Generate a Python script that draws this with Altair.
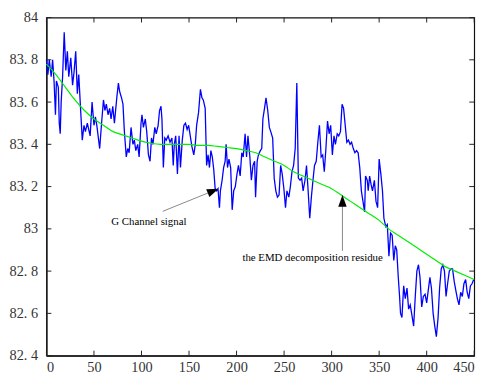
import altair as alt
import pandas as pd

# ---- blue signal (G channel) ----
sig_x = [0, 1.5, 3, 5, 6.5, 8, 9.5, 10.5, 12.5, 13.5, 14.5, 15.5, 17, 18.7, 20.4, 22, 23.5, 25.6, 27.5, 29,
         30.8, 32.5, 34, 36, 37.7, 39.5, 41, 43, 44.5, 46, 48, 50, 51.5, 53, 56, 58, 60, 61.5, 63, 64.8,
         66.5, 68, 69.8, 71.5, 74, 75.7, 77, 79, 80.5, 82, 84, 85.5, 87, 89, 91, 92.5, 94, 96, 97.5, 99.5,
         100.5, 102, 104, 105.5, 107.3, 109, 110.5, 112, 114, 115.5, 117.5, 119, 120.5, 121.5, 123, 124.5, 126, 128, 130, 132,
         133.4, 134.5, 136, 137.8, 139.5, 141, 142.9, 144.6, 146.3, 148, 149.6, 151.3, 153, 155, 156.6, 158, 160, 162, 163.6, 165,
         167, 168.5, 170, 171.5, 173, 174.5, 176, 177.5, 179, 180.5, 182, 183, 184.8, 186.4, 188, 189, 190.5, 192, 193.8, 195.4,
         197, 198.7, 200.5, 202, 203.8, 205.5, 207, 209, 210.5, 212, 214, 215.6, 217.3, 219, 220, 221.7, 223, 225, 226.5, 227.7,
         229.4, 231, 232.8, 234.5, 236, 238, 239.6, 241.3, 243, 244.7, 246.4, 248, 249.8, 251.5, 253, 255, 256.6, 258.3, 260, 261.7,
         263.4, 265, 266.8, 268.5, 270, 272, 273.6, 275.3, 277, 278.7, 280.4, 282, 283.8, 285.5, 287.2, 289, 290.6, 292.3, 294, 295.7,
         297.4, 299, 300.8, 302.5, 304, 305.9, 307.5, 309.3, 311, 312.6, 314.3, 316, 317.7, 319.4, 321, 322.8, 324.5, 326.2, 327.9, 329.6,
         331.3, 333, 334.7, 335.7, 337.5, 338.5, 340, 341.5, 343, 345, 346.7, 348.4, 350, 351.8, 353.5, 355, 357, 358.6, 360.3, 362,
         363.7, 365.4, 367, 368.5, 370, 371.5, 372.5, 374, 375.8, 377.5, 379.3, 381, 382.7, 384.5, 386.3, 388, 389.7, 391.4, 393, 394.8,
         396.5, 398.3, 400, 401.7, 403.4, 405, 406.8, 408.5, 410.2, 412, 413.6, 415.3, 417, 418.7, 420.4, 422, 423.8, 425.5, 427.2, 429,
         430.6, 432.3, 434, 435.8, 437.5, 439.2, 441, 442.6, 444.3, 446, 447.7, 449.5]
sig_y = [83.80, 83.73, 83.80, 83.72, 83.80, 83.70, 83.54, 83.70, 83.67, 83.50, 83.45, 83.60, 83.72, 83.93, 83.75, 83.84, 83.72, 83.81, 83.68, 83.74,
         83.84, 83.64, 83.73, 83.56, 83.42, 83.49, 83.46, 83.50, 83.47, 83.44, 83.60, 83.49, 83.53, 83.49, 83.38, 83.50, 83.61, 83.56, 83.59, 83.54,
         83.57, 83.52, 83.58, 83.50, 83.62, 83.69, 83.65, 83.62, 83.59, 83.46, 83.34, 83.38, 83.36, 83.48, 83.40, 83.42, 83.37, 83.40, 83.34, 83.50,
         83.54, 83.48, 83.52, 83.46, 83.35, 83.32, 83.43, 83.40, 83.48, 83.45, 83.49, 83.56, 83.58, 83.52, 83.29, 83.43, 83.42, 83.44, 83.41, 83.43,
         83.30, 83.40, 83.44, 83.26, 83.44, 83.29, 83.42, 83.49, 83.50, 83.47, 83.49, 83.44, 83.39, 83.35, 83.40, 83.49, 83.55, 83.66, 83.62, 83.61,
         83.57, 83.30, 83.35, 83.29, 83.37, 83.34, 83.28, 83.19, 83.18, 83.19, 83.10, 83.18, 83.23, 83.29, 83.32, 83.40, 83.29, 83.33, 83.29, 83.09,
         83.18, 83.20, 83.26, 83.30, 83.25, 83.36, 83.34, 83.45, 83.34, 83.44, 83.34, 83.23, 83.30, 83.32, 83.15, 83.32, 83.35, 83.37, 83.38, 83.52,
         83.57, 83.62, 83.56, 83.48, 83.46, 83.43, 83.24, 83.18, 83.15, 83.16, 83.30, 83.26, 83.19, 83.10, 83.18, 83.15, 83.20, 83.27, 83.30, 83.38,
         83.69, 83.24, 83.23, 83.24, 83.18, 83.23, 83.30, 83.18, 83.05, 83.15, 83.23, 83.30, 83.32, 83.41, 83.49, 83.34, 83.35, 83.27, 83.38, 83.51,
         83.45, 83.49, 83.35, 83.44, 83.40, 83.45, 83.44, 83.46, 83.59, 83.57, 83.49, 83.41, 83.42, 83.40, 83.41, 83.38, 83.36, 83.37, 83.36, 83.29,
         83.18, 83.13, 83.08, 83.25, 83.23, 83.18, 83.25, 83.21, 83.18, 83.23, 83.13, 83.10, 83.33, 83.26, 83.18, 83.05, 83.01, 83.02, 82.87, 82.98,
         82.97, 82.85, 82.92, 82.90, 82.78, 82.68, 82.60, 82.58, 82.73, 82.67, 82.72, 82.62, 82.64, 82.59, 82.54, 82.68, 82.80, 82.83, 82.77, 82.63,
         82.68, 82.69, 82.65, 82.71, 82.77, 82.72, 82.60, 82.54, 82.49, 82.58, 82.72, 82.81, 82.83, 82.80, 82.68, 82.74, 82.80, 82.81, 82.81, 82.75,
         82.71, 82.67, 82.64, 82.70, 82.68, 82.74, 82.76, 82.70, 82.67, 82.73, 82.74, 82.76]

# ---- green EMD residue ----
res_x = [0, 10, 20, 30, 40, 50, 60, 70, 80, 90, 100, 110, 120, 130, 140, 150, 160, 170, 180, 190,
         200, 210, 220, 230, 240, 250, 260, 270, 280, 290, 300, 310, 320, 330, 340, 350, 360, 370, 380, 390,
         400, 410, 420, 430, 440, 450]
res_y = [83.78, 83.73, 83.67, 83.61, 83.56, 83.52, 83.49, 83.46, 83.445, 83.43, 83.415, 83.405, 83.40, 83.40, 83.40, 83.40, 83.395, 83.395, 83.39, 83.385,
         83.38, 83.37, 83.36, 83.34, 83.32, 83.30, 83.27, 83.25, 83.23, 83.21, 83.19, 83.16, 83.13, 83.10, 83.07, 83.04, 83.00, 82.97, 82.94, 82.91,
         82.88, 82.85, 82.82, 82.80, 82.78, 82.76]

# ---- annotations ----
ann_text = ["G Channel signal", "the EMD decomposition residue"]
ann_tx = [107.8, 280.0]
ann_ty = [83.03, 82.862]
arr_x1 = [122.4, 311.4]
arr_y1 = [83.083, 82.896]
arr_x2 = [181.1, 311.4]
arr_y2 = [83.19, 83.16]
arr_angle = [67.6, 0.0]

x_ticks = [0, 50, 100, 150, 200, 250, 300, 350, 400, 450]
y_ticks = [82.4, 82.6, 82.8, 83.0, 83.2, 83.4, 83.6, 83.8, 84.0]

W, H = 434, 343
XD = [0, 450]
YD = [82.4, 84]
SERIF = "Liberation Serif"

sig = pd.DataFrame({"x": sig_x, "y": sig_y})
res = pd.DataFrame({"x": res_x, "y": res_y})
ann = pd.DataFrame({"t": ann_text, "x": ann_tx, "y": ann_ty})
arr = pd.DataFrame({"x1": arr_x1, "y1": arr_y1, "x2": arr_x2, "y2": arr_y2, "a": arr_angle})
xt = pd.DataFrame({"v": x_ticks})
yt = pd.DataFrame({"v": y_ticks})

xs = alt.Scale(domain=XD, nice=False, zero=False)
ys = alt.Scale(domain=YD, nice=False, zero=False)

label_expr = ("abs(round(datum.value) - datum.value) < 1e-6 ? format(datum.value, 'd') : "
              "replace(format(datum.value, '.1f'), '.', '. ')")

xaxis = alt.Axis(values=x_ticks, ticks=False, grid=False, title=None, labelFont=SERIF,
                 labelFontSize=14.5, labelColor="#333", labelPadding=5, domainColor="#111", domainWidth=1.2)
yaxis = alt.Axis(values=y_ticks, ticks=False, grid=False, title=None, labelFont=SERIF,
                 labelFontSize=14.5, labelColor="#333", labelPadding=9, domainColor="#111", domainWidth=1.2,
                 labelExpr=label_expr)

blue = alt.Chart(sig).mark_line(color="#0000ff", strokeWidth=1.3).encode(
    x=alt.X("x:Q", scale=xs, axis=xaxis), y=alt.Y("y:Q", scale=ys, axis=yaxis))
green = alt.Chart(res).mark_line(color="#00ee00", strokeWidth=1.2, interpolate="monotone").encode(
    x=alt.X("x:Q", scale=xs), y=alt.Y("y:Q", scale=ys))

tick_b = alt.Chart(xt).mark_rule(color="#222", strokeWidth=1).encode(
    x=alt.X("v:Q", scale=xs), y=alt.value(H), y2=alt.value(H - 5))
tick_t = alt.Chart(xt).mark_rule(color="#222", strokeWidth=1).encode(
    x=alt.X("v:Q", scale=xs), y=alt.value(0), y2=alt.value(5))
tick_l = alt.Chart(yt).mark_rule(color="#222", strokeWidth=1).encode(
    y=alt.Y("v:Q", scale=ys), x=alt.value(0), x2=alt.value(5))
tick_r = alt.Chart(yt).mark_rule(color="#222", strokeWidth=1).encode(
    y=alt.Y("v:Q", scale=ys), x=alt.value(W), x2=alt.value(W - 5))

shaft = alt.Chart(arr).mark_rule(color="#888888", strokeWidth=1).encode(
    x=alt.X("x1:Q", scale=xs), y=alt.Y("y1:Q", scale=ys), x2="x2:Q", y2="y2:Q")
head = alt.Chart(arr).mark_point(shape="M0,0L-0.36,1L0.36,1Z", filled=True, color="black",
                                 opacity=1, size=560, strokeWidth=0).encode(
    x=alt.X("x2:Q", scale=xs), y=alt.Y("y2:Q", scale=ys), angle=alt.Angle("a:Q", scale=None))
texts = alt.Chart(ann).mark_text(font=SERIF, fontSize=11, color="black",
                                 align="center", baseline="middle").encode(
    x=alt.X("x:Q", scale=xs), y=alt.Y("y:Q", scale=ys), text="t:N")

chart = alt.layer(blue, green, shaft, head, texts, tick_b, tick_t, tick_l, tick_r).properties(
    width=W, height=H, autosize=alt.AutoSizeParams(type="none"),
    padding={"left": 39, "top": 7, "right": 14, "bottom": 19},
    background="white"
).configure_view(stroke="#111", strokeWidth=1.2)

chart.save("out.html", embed_options={"renderer": "svg", "actions": False})
